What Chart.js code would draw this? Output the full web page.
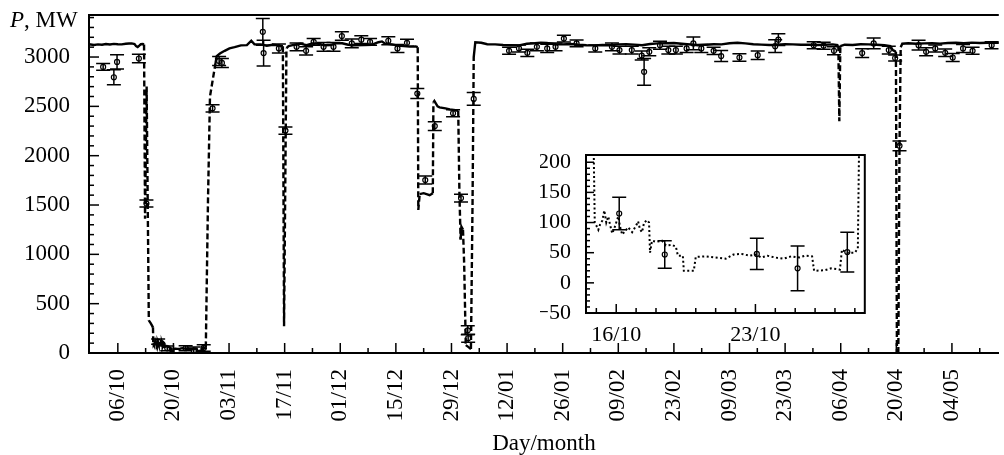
<!DOCTYPE html>
<html>
<head>
    <title>Reactor power</title>
    <script src="https://cdn.jsdelivr.net/npm/chart.js"></script>
    <style>
        body { margin: 0; background: #fff; }
        #wrap { position: relative; width: 1004px; height: 455px; }
        #insetChart { position: absolute; left: 540px; top: 145px; }
    </style>
</head>
<body>
<div id="wrap">
    <canvas id="powerChart" width="1004" height="455"></canvas>
    <canvas id="insetChart" width="330" height="215"></canvas>
</div>

<script>
    // x is in days, day 0 = 06/10
    var xTickLabels = ['06/10', '20/10', '03/11', '17/11', '01/12', '15/12', '29/12', '12/01',
                       '26/01', '09/02', '23/02', '09/03', '23/03', '06/04', '20/04', '04/05'];
    var yTicks = [0, 500, 1000, 1500, 2000, 2500, 3000];
    var insetTickDays = [10, 17];
    var insetTickLabels = ['16/10', '23/10'];
    var insetYTicks = [-50, 0, 50, 100, 150, 200];

    // thermal power trace
    var powerDay = [
        -7.3, -6, -5, -4, -3, -2, -1, 0, 1, 2,
        2.8, 3.5, 4.2, 4.6, 5, 5.4, 5.8, 6.3, 6.6, 6.85,
        7.25, 7.8, 8.3, 8.85, 8.92, 9.0, 9.1, 9.2, 9.3, 9.4,
        9.5, 9.6, 9.7, 9.8, 9.9, 10.0, 10.1, 10.2, 10.3, 10.5,
        10.6, 10.8, 11.0, 11.1, 11.2, 11.3, 11.4, 11.55, 11.65, 11.7,
        11.8, 12.0, 12.3, 12.5, 12.8, 13.0, 13.1, 13.35, 13.4, 13.9,
        14.0, 14.5, 15.0, 15.5, 15.9, 16.3, 16.7, 17.0, 17.3, 17.6,
        18.0, 18.4, 18.8, 19.2, 19.5, 19.85, 19.95, 20.5, 20.8, 21.25,
        21.35, 21.6, 22.0, 22.15, 22.35, 22.7, 23.2, 24.6, 24.9, 25.7,
        26.9, 28.1, 29.4, 31.0, 32.5, 33.6, 34.4, 36.0, 37.5, 39.0,
        40.5, 41.3, 41.55, 41.85, 42.45, 43.0, 44.5, 46.0, 47.5, 49.0,
        50.5, 52.0, 53.5, 55.0, 56.5, 58.0, 59.5, 62.0, 64.0, 65.6,
        66.5, 67.3, 69.0, 70.5, 72.0, 73.5, 75.0, 75.5, 75.65, 76.0,
        77.0, 78.5, 79.3, 79.45, 79.7, 80.5, 81.0, 82.5, 83.6, 85.0,
        85.7, 86.0, 86.3, 86.5, 86.9, 87.2, 87.6, 88.3, 88.9, 89.3,
        89.6, 90.0, 91.5, 93, 95, 97, 99, 101, 103, 105,
        106.5, 108, 110, 112, 114, 116, 118, 120, 122, 124,
        126, 128, 130, 132, 134, 136, 138, 140, 142, 144,
        146, 148, 150, 152, 154, 156, 158, 160, 162, 164,
        166, 168, 170, 172, 174, 176, 178, 180, 181.4, 181.65,
        181.9, 183, 185, 187, 189, 191, 193, 194.5, 195.1, 195.6,
        195.9, 196.15, 196.5, 196.8, 197.1, 197.5, 199, 201, 203, 205,
        207, 209, 211, 213, 215, 217, 219, 221.9
    ];
    var powerMW = [
        3130, 3122, 3128, 3125, 3132, 3127, 3133, 3130, 3128, 3134,
        3137, 3138, 3132, 3110, 3102, 3115, 3130, 3132, 3128, 1360,
        2700, 330, 300, 260, 100, 95, 88, 98, 103, 120,
        100, 110, 95, 82, 90, 100, 110, 92, 80, 88,
        92, 84, 95, 102, 88, 84, 100, 104, 100, 50,
        70, 68, 70, 62, 63, 60, 45, 45, 20, 20,
        43, 44, 42, 40, 47, 48, 45, 47, 42, 45,
        42, 40, 44, 42, 45, 44, 20, 21, 24, 22,
        55, 50, 50, 57, 600, 1550, 2600, 2940, 3010, 3036,
        3063, 3087, 3100, 3118, 3120, 3165, 3130, 3128, 3115, 3125,
        3118, 3112, 3110, 270, 3090, 3110, 3125, 3135, 3120, 3138,
        3135, 3120, 3122, 3138, 3140, 3125, 3120, 3122, 3125, 3150,
        3158, 3135, 3128, 3115, 3110, 3105, 3108, 3100, 1450, 1610,
        1620, 1600, 1620, 2540, 2555, 2500, 2490, 2480, 2470, 2460,
        2455, 1620, 1150, 1280, 1250, 900, 80, 60, 40, 1500,
        3000, 3150, 3145, 3130, 3128, 3122, 3120, 3118, 3135, 3140,
        3146, 3142, 3130, 3128, 3132, 3125, 3120, 3118, 3122, 3120,
        3128, 3130, 3126, 3120, 3132, 3138, 3140, 3142, 3135, 3128,
        3120, 3125, 3130, 3128, 3140, 3144, 3138, 3130, 3126, 3122,
        3125, 3130, 3128, 3124, 3126, 3122, 3125, 3128, 3120, 2350,
        3110, 3125, 3122, 3130, 3128, 3125, 3120, 3110, 3070, 3060,
        3050, 0, 0, 2100, 3100, 3135, 3140, 3135, 3138, 3140,
        3136, 3142, 3145, 3140, 3146, 3142, 3145, 3144
    ];

    // measured points with error bars
    var measDay = [
        -3.7, -1.0, -0.2, 5.3, 7.2, 10.15, 12.44, 17.07, 19.12, 21.62,
        23.85, 25.5, 26.2, 36.5, 36.7, 40.55, 42.2, 45.0, 47.4, 49.3,
        51.8, 54.3, 56.4, 58.9, 61.3, 63.5, 68.1, 70.4, 72.8, 75.4,
        77.4, 79.8, 84.4, 86.4, 88.1, 88.2, 89.6, 98.5, 101.0, 103.1,
        105.5, 108.1, 110.2, 112.3, 115.5, 120.2, 124.4, 126.3, 129.4, 131.9,
        132.5, 133.8, 136.5, 138.6, 140.5, 143.2, 144.9, 146.9, 150.0, 151.9,
        156.5, 161.1, 165.5, 166.3, 175.2, 177.7, 180.3, 187.4, 190.3, 194.1,
        195.7, 196.8, 201.6, 203.5, 205.8, 208.3, 210.2, 212.8, 215.2, 220.0
    ];
    var measMW = [
        2900, 2795, 2950, 2985, 1515, 115, 47, 48, 24, 51,
        2480, 2960, 2940, 3255, 3040, 3087, 2255, 3103, 3063, 3154,
        3103, 3103, 3212, 3138, 3176, 3154, 3165, 3087, 3144, 2630,
        1753, 2300, 2430, 1570, 230, 150, 2575, 3063, 3087, 3043,
        3103, 3087, 3103, 3187, 3138, 3087, 3103, 3070, 3070, 3015,
        2850, 3053, 3120, 3070, 3070, 3087, 3138, 3087, 3063, 3010,
        2995, 3019, 3110, 3176, 3120, 3115, 3063, 3040, 3138, 3070,
        2990, 2100, 3120, 3053, 3087, 3043, 2995, 3087, 3063, 3120
    ];
    var measErr = [
        35, 75, 72, 42, 35, 27, 23, 26, 37, 33,
        37, 45, 45, 135, 130, 45, 37, 40, 42, 35,
        45, 45, 43, 45, 40, 35, 40, 40, 35, 50,
        40, 45, 35, 40, 45, 40, 65, 35, 35, 37,
        40, 42, 40, 35, 35, 35, 40, 40, 40, 45,
        135, 40, 40, 40, 40, 40, 65, 40, 37, 55,
        38, 43, 65, 60, 35, 35, 40, 45, 55, 40,
        30, 50, 50, 40, 35, 38, 40, 40, 35, 35
    ];

    var SERIF = "'Liberation Serif', 'Times New Roman', serif";
    Chart.defaults.font.family = SERIF;
    Chart.defaults.color = '#000';

    function points(xs, ys) {
        return xs.map(function (d, i) { return {x: d, y: ys[i]}; });
    }

    // keep the plot box where it is, labels may hang over the edges
    function noScalePadding(scale) {
        scale.paddingTop = 0;
        scale.paddingBottom = 0;
        scale.paddingLeft = 0;
        scale.paddingRight = 0;
    }

    // inward tick marks, long for major and short for minor
    var inwardTicks = {
        id: 'inwardTicks',
        afterDraw: function (chart, args, opts) {
            var ctx = chart.ctx, area = chart.chartArea;
            ctx.save();
            ctx.strokeStyle = '#000';
            ctx.lineWidth = opts.width;
            ['x', 'y'].forEach(function (id) {
                var o = opts[id], scale = chart.scales[id];
                var k = Math.ceil((scale.min - o.origin) / o.minor);
                for (; o.origin + k * o.minor <= scale.max; k++) {
                    var v = o.origin + k * o.minor;
                    var r = (v - o.origin) / o.major;
                    var len = Math.abs(r - Math.round(r)) < 1e-6 ? o.majorLen : o.minorLen;
                    var p = scale.getPixelForValue(v);
                    ctx.beginPath();
                    if (id === 'x') {
                        if (p < area.left + 2 || p > area.right - 2) continue;
                        ctx.moveTo(p, area.bottom);
                        ctx.lineTo(p, area.bottom - len);
                    } else {
                        if (p > area.bottom - 2 || p < area.top + 2) continue;
                        ctx.moveTo(area.left, p);
                        ctx.lineTo(area.left + len, p);
                    }
                    ctx.stroke();
                }
            });
            ctx.restore();
        }
    };

    var errorBars = {
        id: 'errorBars',
        afterDatasetsDraw: function (chart, args, opts) {
            var ctx = chart.ctx, area = chart.chartArea;
            var xs = chart.scales.x, ys = chart.scales.y;
            ctx.save();
            ctx.beginPath();
            ctx.rect(area.left, area.top, area.right - area.left, area.bottom - area.top);
            ctx.clip();
            ctx.strokeStyle = '#000';
            ctx.lineWidth = opts.width;
            chart.data.datasets.forEach(function (ds) {
                if (!ds.errors) return;
                ds.data.forEach(function (pt, i) {
                    var x = xs.getPixelForValue(pt.x);
                    var y1 = ys.getPixelForValue(pt.y - ds.errors[i]);
                    var y2 = ys.getPixelForValue(pt.y + ds.errors[i]);
                    ctx.beginPath();
                    ctx.moveTo(x, y1); ctx.lineTo(x, y2);
                    ctx.moveTo(x - opts.cap, y1); ctx.lineTo(x + opts.cap, y1);
                    ctx.moveTo(x - opts.cap, y2); ctx.lineTo(x + opts.cap, y2);
                    ctx.stroke();
                });
            });
            ctx.restore();
        }
    };

    // top border (main) or full box (inset), plus the "P, MW" label
    var frame = {
        id: 'frame',
        afterDraw: function (chart, args, opts) {
            var ctx = chart.ctx, a = chart.chartArea;
            ctx.save();
            ctx.strokeStyle = '#000';
            ctx.lineWidth = opts.width;
            if (opts.box) {
                ctx.strokeRect(a.left, a.top, a.right - a.left, a.bottom - a.top);
            } else {
                ctx.beginPath();
                ctx.moveTo(a.left, a.top);
                ctx.lineTo(a.right, a.top);
                ctx.stroke();
            }
            if (opts.yLabel) {
                ctx.fillStyle = '#000';
                ctx.textBaseline = 'alphabetic';
                ctx.font = 'italic 23px ' + SERIF;
                ctx.fillText('P', 10, 27);
                var w = ctx.measureText('P').width;
                ctx.font = '23px ' + SERIF;
                ctx.fillText(', MW', 10 + w, 27);
            }
            ctx.restore();
        }
    };

    // dashed where the power swings, solid along the noisy plateaus
    function steepDash(ctx) {
        return Math.abs(ctx.p1.parsed.y - ctx.p0.parsed.y) > 150 ? [6, 3] : [];
    }

    var mainChart = new Chart(document.getElementById('powerChart'), {
        type: 'line',
        data: {
            datasets: [{
                data: points(powerDay, powerMW),
                borderColor: '#000',
                borderWidth: 2.4,
                segment: { borderDash: steepDash },
                pointRadius: 0,
                tension: 0,
                fill: false
            }, {
                type: 'scatter',
                data: points(measDay, measMW),
                errors: measErr,
                pointRadius: 2.5,
                borderWidth: 1.2,
                borderColor: '#000',
                backgroundColor: 'rgba(0,0,0,0)'
            }]
        },
        options: {
            responsive: false,
            animation: false,
            layout: { padding: { top: 15, left: 0, right: 0, bottom: 0 } },
            plugins: {
                legend: { display: false },
                tooltip: { enabled: false },
                inwardTicks: {
                    width: 1.5,
                    x: { origin: 0, major: 14, minor: 7, majorLen: 10, minorLen: 5 },
                    y: { origin: 0, major: 500, minor: 100, majorLen: 10, minorLen: 5 }
                },
                errorBars: { width: 1.5, cap: 7 },
                frame: { width: 2, box: false, yLabel: true }
            },
            scales: {
                x: {
                    type: 'linear',
                    min: -7.26,
                    max: 221.8,
                    grid: { display: false },
                    border: { color: '#000', width: 2 },
                    afterBuildTicks: function (scale) {
                        scale.ticks = xTickLabels.map(function (l, i) { return {value: i * 14}; });
                    },
                    afterFit: function (scale) {
                        scale.height = 102;
                        noScalePadding(scale);
                    },
                    ticks: {
                        autoSkip: false,
                        maxRotation: 90,
                        minRotation: 90,
                        padding: 8,
                        font: { size: 23 },
                        callback: function (v, i) { return xTickLabels[i]; }
                    },
                    title: {
                        display: true,
                        text: 'Day/month',
                        font: { size: 23, lineHeight: 1 },
                        padding: 0
                    }
                },
                y: {
                    min: 0,
                    max: 3426,
                    grid: { display: false },
                    border: { color: '#000', width: 2 },
                    afterBuildTicks: function (scale) {
                        scale.ticks = yTicks.map(function (v) { return {value: v}; });
                    },
                    afterFit: function (scale) {
                        scale.width = 89;
                        noScalePadding(scale);
                    },
                    ticks: {
                        padding: 11,
                        font: { size: 23 },
                        callback: function (v) { return String(v); }
                    }
                }
            }
        },
        plugins: [inwardTicks, errorBars, frame]
    });

    var insetChart = new Chart(document.getElementById('insetChart'), {
        type: 'line',
        data: {
            datasets: [{
                data: points(powerDay, powerMW),
                borderColor: '#000',
                borderWidth: 2,
                borderDash: [2, 2.5],
                pointRadius: 0,
                tension: 0,
                fill: false
            }, {
                type: 'scatter',
                data: points(measDay, measMW),
                errors: measErr,
                pointRadius: 2.5,
                borderWidth: 1.2,
                borderColor: '#000',
                backgroundColor: 'rgba(0,0,0,0)'
            }]
        },
        options: {
            responsive: false,
            animation: false,
            layout: { padding: { top: 10, left: 0, right: 4, bottom: 0 } },
            plugins: {
                legend: { display: false },
                tooltip: { enabled: false },
                inwardTicks: {
                    width: 1.5,
                    x: { origin: 10, major: 7, minor: 1, majorLen: 9, minorLen: 5 },
                    y: { origin: 0, major: 50, minor: 10, majorLen: 8, minorLen: 4 }
                },
                errorBars: { width: 1.5, cap: 7 },
                frame: { width: 2, box: true, yLabel: false }
            },
            scales: {
                x: {
                    type: 'linear',
                    min: 8.48,
                    max: 22.5,
                    grid: { display: false },
                    border: { color: '#000', width: 2 },
                    afterBuildTicks: function (scale) {
                        scale.ticks = insetTickDays.map(function (d) { return {value: d}; });
                    },
                    afterFit: function (scale) {
                        scale.height = 47;
                        noScalePadding(scale);
                    },
                    ticks: {
                        autoSkip: false,
                        maxRotation: 0,
                        padding: 1,
                        font: { size: 22 },
                        callback: function (v, i) { return insetTickLabels[i]; }
                    }
                },
                y: {
                    min: -50,
                    max: 212,
                    grid: { display: false },
                    border: { color: '#000', width: 2 },
                    afterBuildTicks: function (scale) {
                        scale.ticks = insetYTicks.map(function (v) { return {value: v}; });
                    },
                    afterFit: function (scale) {
                        scale.width = 46;
                        noScalePadding(scale);
                    },
                    ticks: {
                        padding: 7,
                        font: { size: 22 },
                        callback: function (v) { return String(v).replace('-', '\u2212'); }
                    }
                }
            }
        },
        plugins: [inwardTicks, errorBars, frame]
    });
</script>
</body>
</html>
